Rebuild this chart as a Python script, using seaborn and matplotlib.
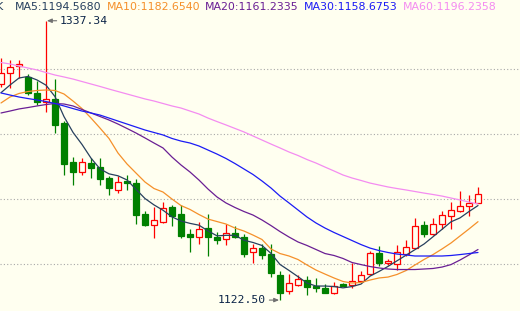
import matplotlib
matplotlib.use("Agg")
import matplotlib.pyplot as plt
import seaborn as sns
import pandas as pd
import numpy as np

sns.set_style("white")
plt.rcParams['font.family'] = ['DejaVu Sans']

# ---- data ----
opens = [1288.5, 1296.9, 1302.2, 1293.8, 1282.0, 1275.1, 1276.9, 1258.7, 1228.9, 1220.8,
         1227.7, 1224.6, 1216.2, 1207.2, 1214.1, 1212.8, 1188.7, 1180.5, 1182.8, 1193.8,
         1188.7, 1173.3, 1171.4, 1177.7, 1171.0, 1169.2, 1173.8, 1171.0, 1159.8, 1162.3,
         1157.9, 1141.8, 1129.5, 1134.1, 1138.3, 1133.5, 1131.5, 1128.2, 1135.2, 1134.1,
         1137.5, 1142.3, 1158.5, 1150.8, 1150.0, 1157.9, 1162.5, 1180.2, 1173.1, 1180.8,
         1187.2, 1191.2, 1194.6, 1197.5]
highs = [1308.9, 1307.2, 1306.8, 1296.4, 1291.0, 1337.34, 1292.3, 1260.2, 1232.2, 1232.0,
         1231.5, 1231.5, 1218.2, 1218.2, 1218.7, 1215.4, 1191.2, 1193.8, 1197.7, 1195.6,
         1195.6, 1177.2, 1182.5, 1188.7, 1175.1, 1181.0, 1179.5, 1173.3, 1165.6, 1165.8,
         1165.4, 1145.1, 1142.5, 1141.8, 1141.0, 1139.5, 1134.6, 1136.6, 1135.8, 1151.0,
         1144.8, 1160.2, 1164.1, 1153.8, 1164.8, 1168.7, 1185.8, 1183.3, 1185.6, 1191.0,
         1198.3, 1206.6, 1203.3, 1209.7]
lows = [1286.6, 1285.4, 1293.3, 1280.2, 1272.2, 1267.4, 1251.2, 1218.7, 1211.0, 1218.7,
        1216.6, 1211.0, 1203.3, 1205.1, 1207.2, 1181.0, 1179.5, 1170.5, 1182.0, 1179.5,
        1170.0, 1159.7, 1165.6, 1156.4, 1165.6, 1164.8, 1170.2, 1156.0, 1151.2, 1153.8,
        1140.2, 1122.5, 1126.8, 1133.7, 1126.4, 1128.7, 1127.7, 1127.5, 1133.3, 1131.5,
        1137.2, 1141.8, 1148.7, 1149.1, 1145.6, 1156.4, 1162.2, 1171.0, 1172.2, 1177.2,
        1177.2, 1190.5, 1187.5, 1197.2]
closes = [1296.9, 1301.5, 1304.1, 1281.5, 1275.1, 1276.9, 1257.2, 1227.2, 1221.2, 1228.5,
          1224.3, 1215.6, 1208.5, 1213.5, 1212.8, 1187.9, 1180.2, 1184.1, 1193.1, 1187.4,
          1171.8, 1171.2, 1177.2, 1170.8, 1168.7, 1173.8, 1170.8, 1158.3, 1162.3, 1157.2,
          1143.3, 1128.2, 1135.4, 1138.5, 1132.5, 1131.8, 1128.2, 1133.5, 1133.5, 1137.5,
          1141.5, 1158.7, 1151.4, 1152.8, 1159.2, 1163.1, 1179.8, 1173.1, 1180.8, 1187.9,
          1191.8, 1194.8, 1197.5, 1203.8]

ma5 = [1282.0, 1287.9, 1293.3, 1294.5, 1291.8, 1287.8, 1279.0, 1263.6, 1251.5, 1242.2,
       1231.7, 1223.4, 1219.6, 1218.1, 1214.9, 1207.7, 1200.6, 1195.7, 1191.6, 1186.5,
       1183.3, 1181.5, 1180.1, 1175.7, 1171.9, 1172.3, 1172.3, 1168.5, 1166.8, 1164.5,
       1158.4, 1149.9, 1145.3, 1140.5, 1135.6, 1133.3, 1133.3, 1132.9, 1131.9, 1132.9,
       1134.8, 1140.9, 1144.5, 1148.4, 1152.7, 1157.0, 1161.3, 1165.6, 1171.2, 1176.9,
       1182.7, 1185.7, 1190.6, 1195.2]
ma10 = [1274.1, 1278.7, 1281.4, 1282.9, 1283.7, 1284.1, 1283.7, 1281.0, 1275.6, 1269.8,
        1262.5, 1254.8, 1246.8, 1235.6, 1227.2, 1220.2, 1213.3, 1208.3, 1205.6, 1200.2,
        1195.2, 1192.2, 1188.3, 1184.8, 1182.9, 1181.0, 1177.9, 1175.6, 1172.5, 1169.1,
        1161.8, 1158.3, 1156.4, 1153.7, 1149.5, 1145.6, 1142.5, 1139.5, 1136.8, 1135.6,
        1136.0, 1137.9, 1139.5, 1140.2, 1142.2, 1145.2, 1149.5, 1153.7, 1157.5, 1161.8,
        1166.4, 1171.8, 1177.2, 1182.8]
ma20 = [1266.4, 1267.9, 1269.5, 1270.6, 1271.8, 1272.9, 1273.7, 1273.3, 1271.8, 1269.1,
        1266.4, 1263.7, 1261.0, 1257.9, 1254.5, 1251.0, 1247.2, 1243.3, 1239.5, 1232.5,
        1226.4, 1221.0, 1214.8, 1207.9, 1201.8, 1197.2, 1193.7, 1190.6, 1187.9, 1184.1,
        1179.8, 1175.2, 1171.0, 1167.2, 1164.5, 1161.4, 1158.3, 1156.8, 1154.5, 1151.4,
        1149.8, 1148.3, 1147.2, 1146.4, 1146.0, 1146.0, 1146.0, 1146.4, 1146.8, 1147.9,
        1149.8, 1153.3, 1157.2, 1161.4]
ma30 = [1281.8, 1280.2, 1278.7, 1277.5, 1276.4, 1275.2, 1273.7, 1271.8, 1269.8, 1267.9,
        1266.4, 1264.8, 1262.5, 1260.2, 1257.9, 1255.6, 1253.3, 1251.4, 1249.5, 1246.8,
        1244.8, 1243.3, 1241.0, 1237.9, 1234.8, 1231.4, 1227.5, 1223.3, 1219.1, 1214.1,
        1208.7, 1202.5, 1197.2, 1191.8, 1186.4, 1181.8, 1177.9, 1174.5, 1171.4, 1168.3,
        1165.2, 1162.5, 1160.6, 1159.1, 1157.9, 1157.2, 1156.4, 1156.4, 1156.4, 1156.4,
        1156.8, 1157.5, 1158.3, 1159.1]
ma60 = [1305.2, 1304.1, 1302.5, 1301.0, 1299.5, 1297.5, 1295.6, 1294.1, 1292.5, 1290.6,
        1288.7, 1286.8, 1284.8, 1282.9, 1281.0, 1279.1, 1277.2, 1275.6, 1273.7, 1271.8,
        1270.2, 1267.9, 1265.6, 1262.5, 1259.8, 1257.2, 1254.5, 1251.8, 1248.7, 1245.6,
        1242.5, 1239.5, 1236.4, 1233.7, 1230.6, 1227.9, 1224.8, 1221.8, 1218.7, 1216.4,
        1214.5, 1212.5, 1211.0, 1209.5, 1208.3, 1207.2, 1206.0, 1204.8, 1203.7, 1202.5,
        1201.0, 1199.5, 1197.9, 1196.4]

ma_names = ["MA5", "MA10", "MA20", "MA30", "MA60"]
ma_labels = ["MA5:1194.5680", "MA10:1182.6540", "MA20:1161.2335", "MA30:1158.6753", "MA60:1196.2358"]
ma_colors = ["#27405e", "#f5902a", "#6a1f94", "#1b1bf5", "#f48cf0"]
grid_levels = [1150, 1200, 1250, 1300]
high_label = "1337.34"
low_label = "1122.50"

BG = "#fffff0"
UP = "#ff0000"
DOWN = "#008000"

n = len(closes)
idx = np.arange(n)

fig = plt.figure(figsize=(5.2, 3.11), dpi=100, facecolor=BG)
ax = fig.add_axes([0, 0, 1, 1])
ax.set_facecolor(BG)
for s in ax.spines.values():
    s.set_visible(False)
ax.set_xticks([])
ax.set_yticks([])

for g in grid_levels:
    ax.axhline(g, color="#a8a8a8", lw=0.8, ls=(0, (1, 2)), zorder=1)

o = np.array(opens); c = np.array(closes); h = np.array(highs); l = np.array(lows)
up = c >= o
cols = np.where(up, UP, DOWN)

ax.vlines(idx, l, h, colors=cols, lw=0.9, zorder=2)
body_b = np.minimum(o, c)
body_h = np.maximum(np.abs(c - o), 0.35)
ax.bar(idx[up], body_h[up], bottom=body_b[up], width=0.72, facecolor=BG,
       edgecolor=UP, linewidth=0.9, zorder=3)
ax.bar(idx[~up], body_h[~up], bottom=body_b[~up], width=0.72, facecolor=DOWN,
       edgecolor=DOWN, linewidth=0.9, zorder=3)

ma_df = pd.DataFrame({"idx": np.tile(idx, 5),
                      "value": np.concatenate([ma5, ma10, ma20, ma30, ma60]),
                      "line": np.repeat(ma_names, n)})
sns.lineplot(data=ma_df, x="idx", y="value", hue="line", hue_order=ma_names,
             palette=dict(zip(ma_names, ma_colors)), estimator=None, sort=False,
             linewidth=0.9, legend=False, ax=ax, zorder=4)
ax.set_xlabel(""); ax.set_ylabel("")

ax.set_xlim(-1 / 9, 519 / 9)
ax.set_ylim(1114.1, 1353.3)

# high / low annotations
hi_i = int(np.argmax(h)); lo_i = int(np.argmin(l))
ax.annotate(high_label, xy=(hi_i + 0.1, h[hi_i]), xytext=(13, 0), textcoords="offset pixels",
            ha="left", va="center", fontsize=8.2, family="DejaVu Sans Mono", color="#0b2447",
            arrowprops=dict(arrowstyle="-|>,head_length=0.35,head_width=0.15", color="#707070",
                            lw=0.8, shrinkA=0, shrinkB=0), zorder=6)
ax.annotate(low_label, xy=(lo_i - 0.1, l[lo_i]), xytext=(-13, 0), textcoords="offset pixels",
            ha="right", va="center", fontsize=8.2, family="DejaVu Sans Mono", color="#0b2447",
            arrowprops=dict(arrowstyle="-|>,head_length=0.35,head_width=0.15", color="#707070",
                            lw=0.8, shrinkA=0, shrinkB=0), zorder=6)

# top legend text
W, H = 520, 311
fig.text(-4 / W, 1 - 7.5 / H, "K", fontsize=8, color="#27405e", va="center", ha="left")
starts = [15, 107, 205, 304, 403]
for lab, col, x0 in zip(ma_labels, ma_colors, starts):
    fig.text(x0 / W, 1 - 7.5 / H, lab, fontsize=7.9, color=col, va="center", ha="left")

fig.savefig("out.png", dpi=100, facecolor=BG)
